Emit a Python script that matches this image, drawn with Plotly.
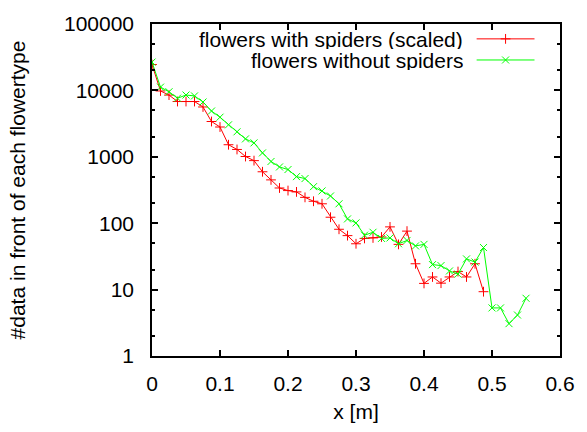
import plotly.graph_objects as go

# ---- data ----
x_with = [0.0, 0.0125, 0.025, 0.0375, 0.05, 0.0625, 0.075, 0.0875, 0.1, 0.1125,
          0.125, 0.1375, 0.15, 0.1625, 0.175, 0.1875, 0.2, 0.2125, 0.225, 0.2375,
          0.25, 0.2625, 0.275, 0.2875, 0.3, 0.3125, 0.325, 0.3375, 0.35, 0.3625,
          0.375, 0.3875, 0.4, 0.4125, 0.425, 0.4375, 0.45, 0.4625, 0.475, 0.4875]
y_with = [24500, 9800, 8500, 6800, 6800, 6800, 5630, 3400, 2810, 1520,
          1290, 1010, 876, 595, 449, 339, 310, 296, 245, 214,
          196, 123, 81, 65, 49, 59, 60, 62, 88, 48,
          76, 24.5, 12.4, 15.5, 12.5, 15.5, 18.7, 15.5, 24.5, 9.3]

x_without = [0.0, 0.0125, 0.025, 0.0375, 0.05, 0.0625, 0.075, 0.0875, 0.1, 0.1125,
             0.125, 0.1375, 0.15, 0.1625, 0.175, 0.1875, 0.2, 0.2125, 0.225, 0.2375,
             0.25, 0.2625, 0.275, 0.2875, 0.3, 0.3125, 0.325, 0.3375, 0.35, 0.3625,
             0.375, 0.3875, 0.4, 0.4125, 0.425, 0.4375, 0.45, 0.4625, 0.475, 0.4875,
             0.5, 0.5125, 0.525, 0.5375, 0.55]
y_without = [26700, 11200, 9540, 7630, 8520, 8260, 6680, 4890, 3950, 3030,
             2380, 1860, 1620, 1145, 850, 703, 643, 503, 470, 355,
             306, 257, 196, 116, 101, 66, 73, 59, 60, 49,
             55, 45.5, 48, 23.8, 23, 19.1, 17.1, 29, 26, 43,
             5.3, 5.3, 3.07, 4.14, 7.4]

names = ["flowers with spiders (scaled)", "flowers without spiders"]
colors = ["#ff0000", "#00ff00"]
symbols = ["cross-thin", "x-thin"]

x_ticks = [0, 0.1, 0.2, 0.3, 0.4, 0.5, 0.6]
x_ticklabels = ["0", "0.1", "0.2", "0.3", "0.4", "0.5", "0.6"]
y_ticks = [1, 10, 100, 1000, 10000, 100000]
y_ticklabels = ["1", "10", "100", "1000", "10000", "100000"]
y_minor = [2, 5, 20, 50, 200, 500, 2000, 5000, 20000, 50000]

FONT = "Liberation Sans, Arial, Helvetica, sans-serif"
FS = 21

fig = go.Figure()
series = [(x_with, y_with), (x_without, y_without)]
for (xs, ys), nm, c, s in zip(series, names, colors, symbols):
    fig.add_trace(go.Scatter(
        x=xs, y=ys, mode="lines+markers", name=nm,
        line=dict(color=c, width=1),
        marker=dict(symbol=s, size=7, color=c, line=dict(color=c, width=1)),
        showlegend=False,
    ))

# manual gnuplot-style legend (text right, sample on the right)
L = 416.0
H = 346.0
def fx(px):
    return (px - 152) / L
def fy(py):
    return (361 - py) / H

leg_y = [30.5, 52.5]
for i, (nm, c, s) in enumerate(zip(names, colors, symbols)):
    fig.add_trace(go.Scatter(
        x=[fx(483), fx(542)], y=[fy(leg_y[i])] * 2,
        xaxis="x2", yaxis="y2", mode="lines",
        line=dict(color=c, width=1),
        showlegend=False, hoverinfo="skip",
    ))
    fig.add_trace(go.Scatter(
        x=[fx(512.5)], y=[fy(leg_y[i])],
        xaxis="x2", yaxis="y2", mode="markers",
        marker=dict(symbol=s, size=7, color=c, line=dict(color=c, width=1)),
        showlegend=False, hoverinfo="skip",
    ))
    fig.add_annotation(
        x=fx(470), y=fy(leg_y[i]), xref="x2", yref="y2",
        text=nm, showarrow=False, xanchor="right", yanchor="middle",
        height=20, borderpad=0,
        font=dict(family=FONT, size=FS, color="black"),
    )

axis_common = dict(
    showline=True, linecolor="black", linewidth=1.5, mirror="ticks",
    ticks="inside", tickcolor="black", tickwidth=1.5, ticklen=6,
    showgrid=False, zeroline=False,
    tickfont=dict(family=FONT, size=FS, color="black"),
)

fig.update_layout(
    width=587, height=432,
    margin=dict(l=152, r=19, t=15, b=71),
    paper_bgcolor="white", plot_bgcolor="white",
    font=dict(family=FONT, size=FS, color="black"),
    xaxis=dict(
        range=[0, 0.6], tickmode="array", tickvals=x_ticks, ticktext=x_ticklabels,
        title=dict(text="x [m]", font=dict(family=FONT, size=FS), standoff=10),
        ticklabelstandoff=8,
        **axis_common,
    ),
    yaxis=dict(
        type="log", range=[0, 5], tickmode="array", tickvals=y_ticks,
        ticktext=y_ticklabels,
        title=dict(text="#data in front of each flowertype",
                   font=dict(family=FONT, size=FS), standoff=33),
        ticklabelstandoff=12,
        minor=dict(tickmode="array", tickvals=y_minor, ticks="inside",
                   ticklen=3, tickcolor="black", tickwidth=1.5),
        **axis_common,
    ),
    xaxis2=dict(overlaying="x", range=[0, 1], visible=False),
    yaxis2=dict(overlaying="y", range=[0, 1], visible=False),
)

fig.write_html("out.html")
